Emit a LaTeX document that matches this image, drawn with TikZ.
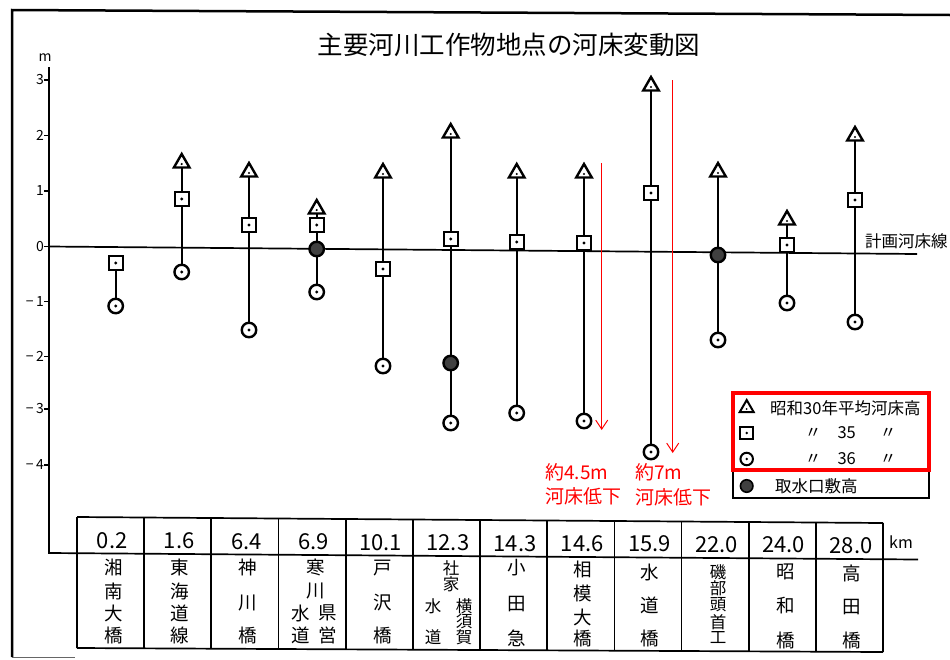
\documentclass[tikz,border=0pt]{standalone}
\usepackage{fontspec}
\setmainfont{Noto Sans CJK JP}
\usetikzlibrary{shapes.geometric,arrows.meta,backgrounds}
\begin{document}
\begin{tikzpicture}[x=1pt,y=-1pt,
  ln/.style={line width=1.7pt,black},
  sym/.style={draw,line width=2.4pt,fill=white,inner sep=0pt},
  sq/.style={sym,rectangle,minimum size=14pt},
  ci/.style={sym,circle,minimum size=14.5pt},
  tri/.style={sym,regular polygon,regular polygon sides=3,minimum size=18pt},
  dk/.style={sym,circle,minimum size=14.5pt,fill=black!75},
  tk/.style={font=\fontsize{14}{14}\selectfont,inner sep=0pt,anchor=east},
  num/.style={font=\fontsize{22}{22}\selectfont,inner sep=0pt},
  nm/.style={font=\fontsize{18.5}{18.5}\selectfont,inner sep=0pt},
  nms/.style={font=\fontsize{16.5}{16.5}\selectfont,inner sep=0pt},
  lg/.style={font=\fontsize{16.5}{16.5}\selectfont,inner sep=0pt},
  rd/.style={font=\fontsize{19}{19}\selectfont,inner sep=0pt,text=red,anchor=west},
  rarrow/.style={red,line width=1pt,-{Straight Barb[length=9pt,width=12pt]}}
]
\useasboundingbox (0,0) rectangle (950,659);
% frame
\draw[line width=2.5pt] (12,657) -- (12,10) -- (950,15);
\draw[line width=1pt,black!60] (12,657) -- (75,657);
% title
\node[font=\fontsize{25.5}{25.5}\selectfont,inner sep=0pt] (title) at (509,45) {主要河川工作物地点の河床変動図};
% axis
\draw[ln] (49,67) -- (49,553) -- (918,559.5);
\node[font=\fontsize{14}{14}\selectfont,inner sep=0pt] (unitm) at (45,58) {m};
\foreach \v/\yy [count=\i] in {3/80,2/135.5,1/191,0/246.5,−\,1/301.5,−\,2/356.5,−\,3/409,−\,4/465}{
  \draw[line width=1.2pt] (44,\yy) -- (49,\yy);
  \node[tk] (tick\i) at (44,\yy) {\v};
}
% plan line
\draw[ln] (49,246.5) -- (917,254);
\node[font=\fontsize{16.5}{16.5}\selectfont,inner sep=0pt,anchor=west] (planlbl) at (865,241) {計画河床線};
% stations
\node[sq] (s1) at (115.7,263) {};
\node[ci] (c1) at (115.7,306) {};
\node[tri] (t2) at (181.7,163) {};
\node[sq] (s2) at (181.7,199) {};
\node[ci] (c2) at (181.7,272) {};
\node[tri] (t3) at (249,172) {};
\node[sq] (s3) at (249,225) {};
\node[ci] (c3) at (249,330) {};
\node[tri] (t4) at (316.7,209) {};
\node[sq] (s4) at (316.7,225) {};
\node[dk] (d4) at (316.7,249) {};
\node[ci] (c4) at (316.7,292) {};
\node[tri] (t5) at (383,173) {};
\node[sq] (s5) at (383,269) {};
\node[ci] (c5) at (383,366) {};
\node[tri] (t6) at (450.7,133) {};
\node[sq] (s6) at (450.7,239) {};
\node[dk] (d6) at (450.7,363) {};
\node[ci] (c6) at (450.7,423) {};
\node[tri] (t7) at (516.7,173) {};
\node[sq] (s7) at (516.7,242) {};
\node[ci] (c7) at (516.7,413) {};
\node[tri] (t8) at (584,173) {};
\node[sq] (s8) at (584,243) {};
\node[ci] (c8) at (584,421) {};
\node[tri] (t9) at (651,86) {};
\node[sq] (s9) at (651,193) {};
\node[ci] (c9) at (651,452) {};
\node[tri] (t10) at (718,172) {};
\node[dk] (d10) at (718,255) {};
\node[ci] (c10) at (718,340) {};
\node[tri] (t11) at (787,220) {};
\node[sq] (s11) at (787,245) {};
\node[ci] (c11) at (787,303) {};
\node[tri] (t12) at (855,136) {};
\node[sq] (s12) at (855,200) {};
\node[ci] (c12) at (855,322) {};
\begin{pgfonlayer}{background}
  \draw[ln] (s1.center) -- (c1.center);
  \foreach \k in {2,...,12}{\draw[ln] (t\k.center) -- (c\k.center);}
\end{pgfonlayer}
% centre dots
\foreach \n in {s1,c1,s2,c2,s3,c3,s4,c4,s5,c5,s6,c6,s7,c7,s8,c8,s9,c9,c10,s11,c11,s12,c12}{
  \fill (\n.center) circle (1.6pt);
}
\foreach \k in {2,...,12}{\fill ([yshift=-1pt]t\k.center) circle (1.2pt);}
% red arrows
\coordinate (r1s) at (601.7,163);
\coordinate (r1e) at (601.7,430);
\coordinate (r2s) at (672.7,80);
\coordinate (r2e) at (672.7,453);
\draw[rarrow] (r1s) -- (r1e);
\draw[rarrow] (r2s) -- (r2e);
\node[rd] (a1) at (545,472) {約4.5m};
\node[rd] (a2) at (545,496) {河床低下};
\node[rd] (a3) at (635,472) {約7m};
\node[rd] (a4) at (635,497) {河床低下};
% legend
\draw[line width=1.3pt] (733,393) rectangle (929,498);
\node[tri,minimum size=16pt,line width=2pt] (lt) at (746.7,408) {};
\node[sq,minimum size=12.5pt,line width=2pt] (ls) at (746.7,433) {};
\node[ci,minimum size=12.5pt,line width=2pt] (lc) at (746.7,459) {};
\node[dk,minimum size=12.5pt,line width=1.6pt] (ld) at (746.7,486) {};
\fill ([yshift=-1pt]lt.center) circle (1pt);
\fill (ls.center) circle (1.4pt);
\fill (lc.center) circle (1.4pt);
\node[lg,anchor=west] (lt1) at (770,408) {昭和30年平均河床高};
\node[lg] (lq1) at (813,433) {〃};
\node[lg] (l35) at (846.7,433) {35};
\node[lg] (lq2) at (888,433) {〃};
\node[lg] (lq3) at (813,459) {〃};
\node[lg] (l36) at (846.7,459) {36};
\node[lg] (lq4) at (888,459) {〃};
\node[lg,anchor=west] (ld1) at (775,486) {取水口敷高};
\draw[red,line width=3.5pt] (733,393) rectangle (929,470);
% table
\draw[ln] (77,517) -- (883,523);
\draw[ln] (77,648) -- (883,652);
\foreach \k in {0,...,12}{
  \pgfmathsetmacro\xx{77+67.17*\k}
  \draw[ln] (\xx,{517+0.0074*(\xx-77)}) -- (\xx,{648+0.005*(\xx-77)});
}
\foreach \t [count=\i] in {0.2,1.6,6.4,6.9,10.1,12.3,14.3,14.6,15.9,22.0,24.0,28.0}{
  \pgfmathsetmacro\cx{77+67.17*(\i-0.5)+1.5}
  \node[num] (km\i) at (\cx,{540+0.0072*(\cx-77)}) {\t};
}
\node[font=\fontsize{16}{16}\selectfont,inner sep=0pt] (kmlbl) at (901,542) {km};
% names
\foreach \x/\y/\t [count=\i] in {
  114/567/湘,114/591/南,114/613/大,114/635/橋,
  180/567/東,180/591/海,180/613/道,180/635/線,
  248/567/神,248/603/川,248/635/橋,
  316/567/寒,316/591/川,301/613/水,328/613/県,301/635/道,328/635/営,
  383/568/戸,383/603/沢,383/635/橋,
  517/568/小,517/604/田,517/638/急,
  583/569/相,583/593/模,583/617/大,583/638/橋,
  650/572/水,650/605/道,650/638/橋,
  786/572/昭,786/606/和,786/640/橋,
  852/573/高,852/607/田,852/640/橋}{
  \node[nm] (nm\i) at (\x,\y) {\t};
}
\foreach \x/\y/\t [count=\i] in {
  451/568/社,451/584/家,433/606/水,433/637/道,464/606/横,464/621/須,464/637/賀,
  718/572/磯,718/588/部,718/605/頭,718/622/首,718/638/工}{
  \node[nms] (ns\i) at (\x,\y) {\t};
}
\end{tikzpicture}
\end{document}
